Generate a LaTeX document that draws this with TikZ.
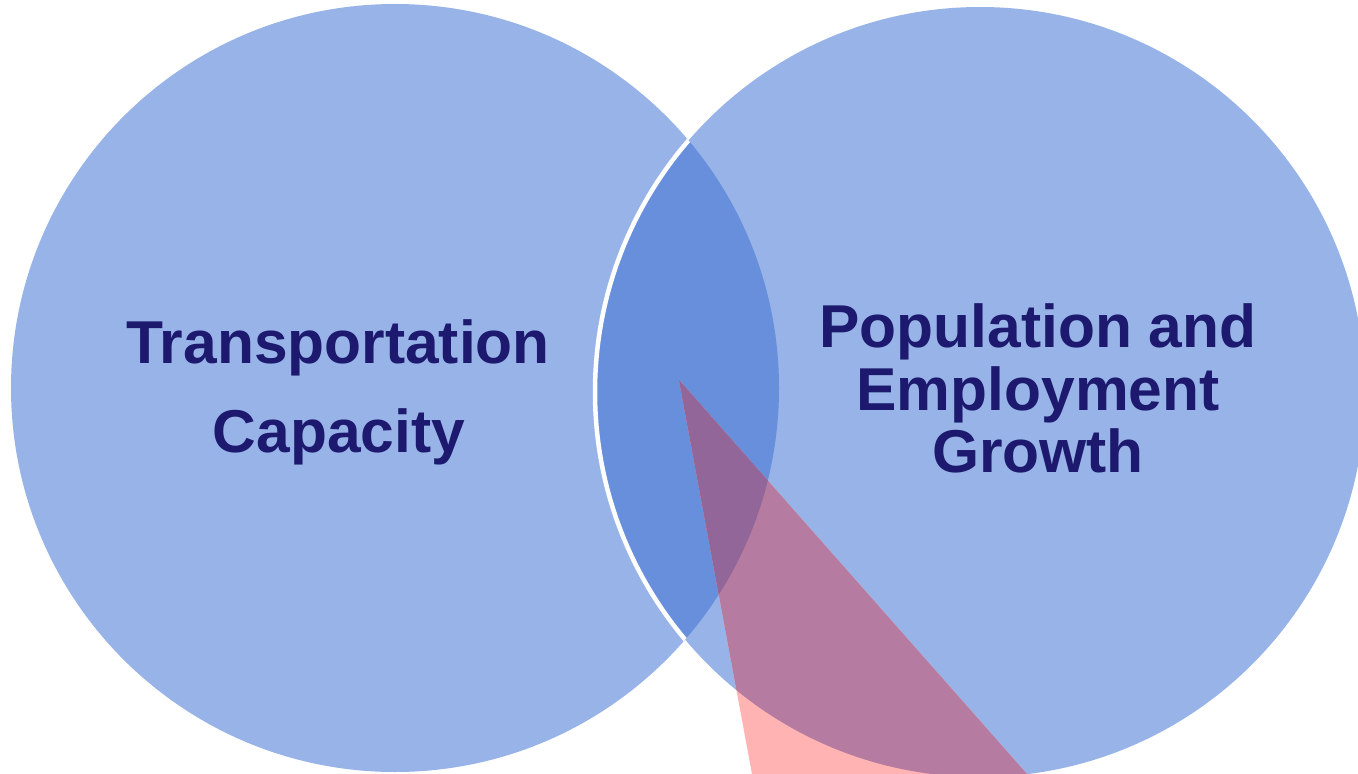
\documentclass[tikz,border=0pt]{standalone}
\usepackage{fontspec}
\setmainfont{Liberation Sans}
\definecolor{circblue}{RGB}{151,179,232}
\definecolor{lensblue}{RGB}{103,143,219}
\definecolor{pinkc}{RGB}{255,179,179}
\definecolor{purplec}{RGB}{181,123,160}
\definecolor{darkpurple}{RGB}{146,102,153}
\definecolor{navytext}{RGB}{28,25,110}
\tikzset{
  label text/.style={anchor=base, inner sep=0pt, text=navytext,
    font=\fontsize{60.5}{72}\selectfont\bfseries},
}
\begin{document}
\begin{tikzpicture}[x=1pt,y=-1pt]
\path[use as bounding box] (0,0) rectangle (1358,774);
\clip (0,0) rectangle (1358,774);
\coordinate (cl) at (395,388);
\coordinate (cr) at (980,392);
\coordinate (ta) at (679,380);
\coordinate (tl) at (752,774);
\coordinate (tr) at (1027,774);
% circles
\fill[circblue] (cl) circle[radius=384pt];
\fill[circblue] (cr) circle[radius=385pt];
% lens
\begin{scope}
  \clip (cl) circle[radius=384pt];
  \fill[lensblue] (cr) circle[radius=385pt];
  \draw[white, line width=4.5pt] (cr) circle[radius=385pt];
\end{scope}
% triangle
\fill[pinkc] (ta) -- (tl) -- (tr) -- cycle;
\begin{scope}
  \clip (cl) circle[radius=384pt];
  \fill[purplec] (ta) -- (tl) -- (tr) -- cycle;
\end{scope}
\begin{scope}
  \clip (cr) circle[radius=385pt];
  \fill[purplec] (ta) -- (tl) -- (tr) -- cycle;
\end{scope}
\begin{scope}
  \clip (cl) circle[radius=384pt];
  \clip (cr) circle[radius=385pt];
  \fill[darkpurple] (ta) -- (tl) -- (tr) -- cycle;
\end{scope}
% labels
\node[label text] (t1) at (338,363) {Transportation};
\node[label text] (t2) at (339,452) {Capacity};
\node[label text] (p1) at (1038,347) {Population and};
\node[label text] (p2) at (1038,410) {Employment};
\node[label text] (p3) at (1038,472) {Growth};
\end{tikzpicture}
\end{document}
